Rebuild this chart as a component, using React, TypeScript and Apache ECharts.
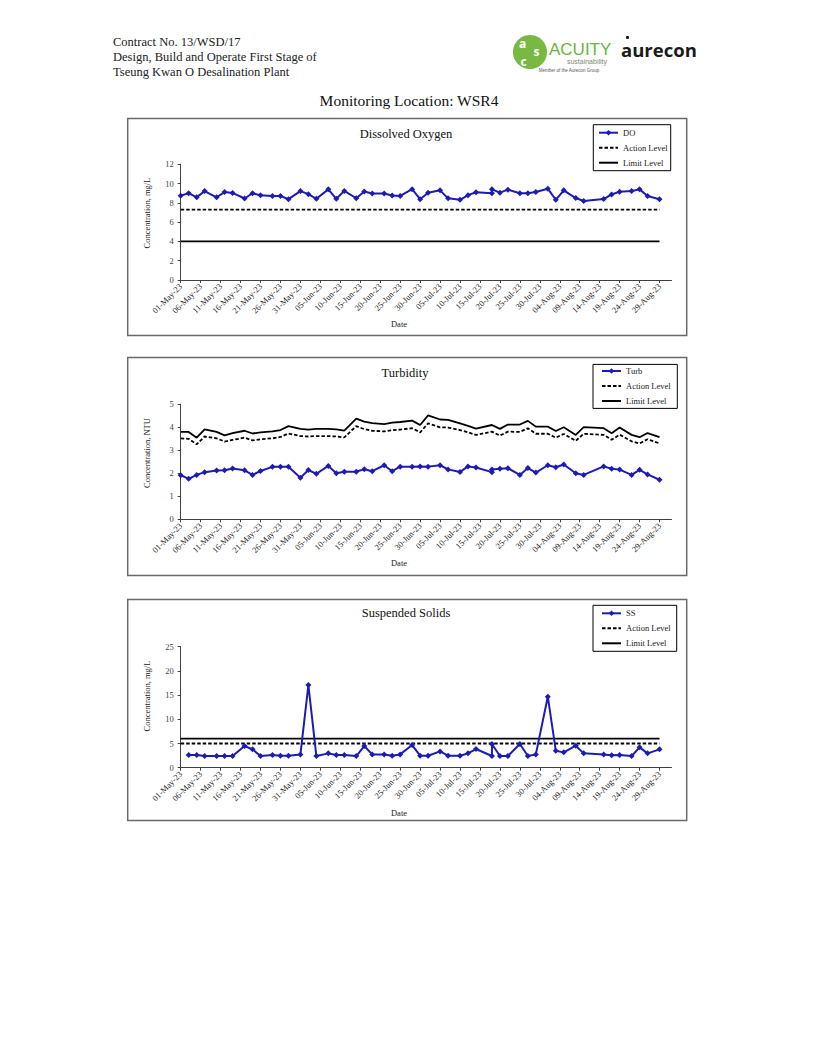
import React, { useEffect, useRef } from "react";
import * as echarts from "echarts";

// ---------------- DATA ----------------
const SAMPLE_DATES = [
  "2023-05-01", "2023-05-03", "2023-05-05", "2023-05-07", "2023-05-10", "2023-05-12", "2023-05-14",
  "2023-05-17", "2023-05-19", "2023-05-21", "2023-05-24", "2023-05-26", "2023-05-28", "2023-05-31",
  "2023-06-02", "2023-06-04", "2023-06-07", "2023-06-09", "2023-06-11", "2023-06-14", "2023-06-16",
  "2023-06-18", "2023-06-21", "2023-06-23", "2023-06-25", "2023-06-28", "2023-06-30", "2023-07-02",
  "2023-07-05", "2023-07-07", "2023-07-10", "2023-07-12", "2023-07-14", "2023-07-18", "2023-07-18",
  "2023-07-20", "2023-07-22", "2023-07-25", "2023-07-27", "2023-07-29", "2023-08-01", "2023-08-03",
  "2023-08-05", "2023-08-08", "2023-08-10", "2023-08-15", "2023-08-17", "2023-08-19", "2023-08-22",
  "2023-08-24", "2023-08-26", "2023-08-29",
];

const DO_VALUES = [
  8.75, 9.0, 8.58, 9.22, 8.58, 9.12, 9.03,
  8.45, 9.0, 8.78, 8.72, 8.72, 8.38, 9.22,
  8.9, 8.42, 9.4, 8.42, 9.24, 8.48, 9.18,
  8.98, 8.98, 8.76, 8.72, 9.42, 8.38, 9.05,
  9.3, 8.47, 8.32, 8.8, 9.1, 9.0, 9.4,
  9.06, 9.37, 8.99, 8.99, 9.12, 9.47, 8.32,
  9.3, 8.5, 8.2, 8.4, 8.88, 9.16, 9.23,
  9.4, 8.72, 8.38,
];

const TURB_VALUES = [
  1.92, 1.76, 1.93, 2.05, 2.12, 2.13, 2.21,
  2.13, 1.93, 2.1, 2.28, 2.28, 2.28, 1.81,
  2.14, 1.98, 2.32, 2.0, 2.07, 2.07, 2.18,
  2.09, 2.35, 2.09, 2.29, 2.29, 2.3, 2.29,
  2.35, 2.17, 2.06, 2.3, 2.25, 2.05, 2.17,
  2.2, 2.22, 1.93, 2.23, 2.03, 2.35, 2.26,
  2.38, 2.0, 1.93, 2.3, 2.2, 2.16, 1.93,
  2.15, 1.95, 1.72,
];

const TURB_ACTION = [
  3.52, 3.5, 3.26, 3.6, 3.52, 3.38, 3.45,
  3.55, 3.43, 3.48, 3.52, 3.58, 3.73, 3.62,
  3.6, 3.62, 3.62, 3.6, 3.56, 4.05, 3.92,
  3.85, 3.82, 3.87, 3.9, 3.96, 3.78, 4.17,
  4.0, 3.99, 3.88, 3.78, 3.67, 3.81, 3.81,
  3.64, 3.81, 3.8, 3.96, 3.72, 3.72, 3.55,
  3.71, 3.41, 3.72, 3.67, 3.46, 3.68, 3.39,
  3.3, 3.48, 3.3,
];

const TURB_LIMIT = [
  3.8, 3.8, 3.55, 3.91, 3.8, 3.65, 3.75,
  3.85, 3.73, 3.78, 3.82, 3.88, 4.05, 3.93,
  3.9, 3.93, 3.93, 3.91, 3.86, 4.38, 4.25,
  4.18, 4.14, 4.2, 4.23, 4.29, 4.1, 4.52,
  4.34, 4.32, 4.17, 4.06, 3.94, 4.1, 4.1,
  3.93, 4.12, 4.12, 4.28, 4.03, 4.03, 3.84,
  4.0, 3.67, 4.01, 3.96, 3.74, 3.99, 3.67,
  3.57, 3.75, 3.57,
];

const SS_DATES = SAMPLE_DATES.slice(1);
const SS_VALUES = [
  2.62, 2.62, 2.41, 2.41, 2.41, 2.41,
  4.48, 3.79, 2.41, 2.62, 2.48, 2.48, 2.75,
  17.08, 2.41, 2.96, 2.62, 2.62, 2.41, 4.48,
  2.75, 2.75, 2.48, 2.75, 4.68, 2.48, 2.48,
  3.37, 2.48, 2.48, 2.96, 3.86, 2.41, 4.89,
  2.41, 2.41, 4.89, 2.41, 2.75, 14.67, 3.51,
  3.17, 4.55, 2.96, 2.75, 2.55, 2.62, 2.41,
  4.2, 2.96, 3.79,
];

const LEVEL_DATES = ["2023-05-01", "2023-08-29"];
const DO_ACTION_LEVEL = 7.3;
const DO_LIMIT_LEVEL = 4;
const SS_ACTION_LEVEL = 5;
const SS_LIMIT_LEVEL = 6;

const X_TICK_LABELS = [
  "01-May-23", "06-May-23", "11-May-23", "16-May-23", "21-May-23", "26-May-23", "31-May-23",
  "05-Jun-23", "10-Jun-23", "15-Jun-23", "20-Jun-23", "25-Jun-23", "30-Jun-23", "05-Jul-23",
  "10-Jul-23", "15-Jul-23", "20-Jul-23", "25-Jul-23", "30-Jul-23", "04-Aug-23", "09-Aug-23",
  "14-Aug-23", "19-Aug-23", "24-Aug-23", "29-Aug-23",
];

// ---------------- HELPERS ----------------
const ORIGIN = Date.UTC(2023, 4, 1);
const DAY = 86400000;
const MONTHS = ["Jan", "Feb", "Mar", "Apr", "May", "Jun", "Jul", "Aug", "Sep", "Oct", "Nov", "Dec"];
const dayOfIso = (iso: string) => {
  const [y, m, d] = iso.split("-").map(Number);
  return Math.round((Date.UTC(y, m - 1, d) - ORIGIN) / DAY);
};
const dayOfLabel = (lab: string) => {
  const [d, mon, yy] = lab.split("-");
  return Math.round((Date.UTC(2000 + Number(yy), MONTHS.indexOf(mon), Number(d)) - ORIGIN) / DAY);
};
const TICK_DAYS = X_TICK_LABELS.map(dayOfLabel);
const LABEL_BY_DAY: Record<number, string> = {};
X_TICK_LABELS.forEach((l, i) => (LABEL_BY_DAY[TICK_DAYS[i]] = l));
const pairs = (dates: string[], vals: number[]) => dates.map((d, i) => [dayOfIso(d), vals[i]]);
const constLine = (v: number) => LEVEL_DATES.map((d) => [dayOfIso(d), v]);

const SERIF = "Liberation Serif";
const BLUE = "#1c1cb4";

export default function App() {
  const ref = useRef<HTMLDivElement>(null);
  useEffect(() => {
    if (!ref.current) return;
    const chart = echarts.init(ref.current, null, { renderer: "svg" });

    const panels = [
      { top: 164.3, height: 115.7, yMax: 12, yInt: 2 },
      { top: 404.3, height: 115, yMax: 5, yInt: 1 },
      { top: 646.7, height: 121, yMax: 25, yInt: 5 },
    ];
    const grid = panels.map((p) => ({ left: 180.7, width: 490.8, top: p.top, height: p.height }));
    const xAxis = panels.map((_, i) => ({
      type: "value",
      gridIndex: i,
      min: 0,
      max: 123,
      axisLine: { show: true, lineStyle: { color: "#404040", width: 1 } },
      axisTick: { show: true, length: 3, customValues: TICK_DAYS, lineStyle: { color: "#404040" } },
      axisLabel: {
        customValues: TICK_DAYS,
        rotate: 45,
        margin: 5,
        fontFamily: SERIF,
        fontSize: 8.5,
        color: "#222",
        formatter: (v: number) => LABEL_BY_DAY[Math.round(v)] ?? "",
      },
      splitLine: { show: false },
    }));
    const yAxis = panels.map((p, i) => ({
      type: "value",
      gridIndex: i,
      min: 0,
      max: p.yMax,
      interval: p.yInt,
      axisLine: { show: true, lineStyle: { color: "#404040", width: 1 } },
      axisTick: { show: true, length: 3, lineStyle: { color: "#404040" } },
      axisLabel: { fontFamily: SERIF, fontSize: 8.5, color: "#444", margin: 7 },
      splitLine: { show: false },
    }));

    const mainSeries = (name: string, idx: number, data: number[][]) => ({
      name,
      type: "line",
      xAxisIndex: idx,
      yAxisIndex: idx,
      data,
      symbol: "diamond",
      symbolSize: 6,
      lineStyle: { color: BLUE, width: 2 },
      itemStyle: { color: BLUE },
      z: 5,
    });
    const actionSeries = (idx: number, data: number[][]) => ({
      name: "Action Level",
      type: "line",
      xAxisIndex: idx,
      yAxisIndex: idx,
      data,
      symbol: "none",
      lineStyle: { color: "#000", width: 1.8, type: [3.5, 2] },
      itemStyle: { color: "#000" },
      z: 3,
    });
    const limitSeries = (idx: number, data: number[][]) => ({
      name: "Limit Level",
      type: "line",
      xAxisIndex: idx,
      yAxisIndex: idx,
      data,
      symbol: "none",
      lineStyle: { color: "#000", width: 1.8 },
      itemStyle: { color: "#000" },
      z: 3,
    });

    const series = [
      mainSeries("DO", 0, pairs(SAMPLE_DATES, DO_VALUES)),
      actionSeries(0, constLine(DO_ACTION_LEVEL)),
      limitSeries(0, constLine(DO_LIMIT_LEVEL)),
      mainSeries("Turb", 1, pairs(SAMPLE_DATES, TURB_VALUES)),
      actionSeries(1, pairs(SAMPLE_DATES, TURB_ACTION)),
      limitSeries(1, pairs(SAMPLE_DATES, TURB_LIMIT)),
      mainSeries("SS", 2, pairs(SS_DATES, SS_VALUES)),
      actionSeries(2, constLine(SS_ACTION_LEVEL)),
      limitSeries(2, constLine(SS_LIMIT_LEVEL)),
    ];

    const legendBase = {
      orient: "vertical",
      padding: 0,
      itemGap: 4,
      itemWidth: 19,
      itemHeight: 7,
      selectedMode: false,
      textStyle: { fontFamily: SERIF, fontSize: 8.5, color: "#222", lineHeight: 11 },
    };
    const lvl = (name: string) => ({ name, itemStyle: { opacity: 0 } });
    const legend = [
      { ...legendBase, left: 598, top: 127.2, data: ["DO", lvl("Action Level"), lvl("Limit Level")] },
      { ...legendBase, left: 601, top: 365.5, data: ["Turb", lvl("Action Level"), lvl("Limit Level")] },
      { ...legendBase, left: 601, top: 607.8, data: ["SS", lvl("Action Level"), lvl("Limit Level")] },
    ];

    const boxes = [
      { x: 127.7, y: 118.5, w: 559, h: 217 },
      { x: 127.7, y: 357.5, w: 559, h: 218 },
      { x: 127.7, y: 599.5, w: 559, h: 221 },
    ];
    const legendBoxes = [
      { x: 593.3, y: 124.7, w: 77.4, h: 46 },
      { x: 593, y: 364.4, w: 84.3, h: 44 },
      { x: 593, y: 605.3, w: 83.7, h: 46 },
    ];
    const titles = [
      { text: "Dissolved Oxygen", x: 406, y: 134 },
      { text: "Turbidity", x: 405, y: 373 },
      { text: "Suspended Solids", x: 406, y: 613 },
    ];
    const yNames = [
      { text: "Concentration, mg/L", y: 213 },
      { text: "Concentration, NTU", y: 453 },
      { text: "Concentration, mg/L", y: 696 },
    ];
    const dateY = [323.5, 563, 813];

    const graphic: any[] = [];
    boxes.forEach((b) =>
      graphic.push({
        type: "rect",
        shape: { x: b.x, y: b.y, width: b.w, height: b.h },
        style: { fill: "none", stroke: "#6a6a6a", lineWidth: 1.5 },
        z: 0,
      })
    );
    legendBoxes.forEach((b) =>
      graphic.push({
        type: "rect",
        shape: { x: b.x, y: b.y, width: b.w, height: b.h },
        style: { fill: "#fff", stroke: "#000", lineWidth: 1 },
        z: 1,
      })
    );
    titles.forEach((t) =>
      graphic.push({
        type: "text",
        x: t.x,
        y: t.y,
        style: { text: t.text, fontFamily: SERIF, fontSize: 12.5, fill: "#111", align: "center", verticalAlign: "middle" },
      })
    );
    yNames.forEach((t) =>
      graphic.push({
        type: "text",
        x: 146.7,
        y: t.y,
        rotation: Math.PI / 2,
        style: { text: t.text, fontFamily: SERIF, fontSize: 8.5, fill: "#222", align: "center", verticalAlign: "middle" },
      })
    );
    dateY.forEach((y) =>
      graphic.push({
        type: "text",
        x: 399,
        y,
        style: { text: "Date", fontFamily: SERIF, fontSize: 8.5, fill: "#222", align: "center", verticalAlign: "middle" },
      })
    );

    // Header
    const headerLines = ["Contract No. 13/WSD/17", "Design, Build and Operate First Stage of", "Tseung Kwan O Desalination Plant"];
    headerLines.forEach((t, i) =>
      graphic.push({
        type: "text",
        x: 113,
        y: 41.5 + i * 15,
        style: { text: t, fontFamily: SERIF, fontSize: 12.5, fill: "#222", align: "left", verticalAlign: "middle" },
      })
    );
    graphic.push({
      type: "text",
      x: 409,
      y: 100,
      style: { text: "Monitoring Location: WSR4", fontFamily: SERIF, fontSize: 15.5, fill: "#111", align: "center", verticalAlign: "middle" },
    });

    // Logos
    graphic.push({ type: "circle", shape: { cx: 530, cy: 52, r: 17 }, style: { fill: "#79b843" } });
    const logoLetter = (t: string, x: number, y: number) => ({
      type: "text", x, y,
      style: { text: t, fontFamily: "Open Sans", fontWeight: "bold", fontSize: 12, fill: "#fff", align: "center", verticalAlign: "middle" },
    });
    graphic.push(logoLetter("a", 522.5, 43.5));
    graphic.push(logoLetter("s", 536.5, 51));
    graphic.push(logoLetter("c", 523.5, 61));
    graphic.push({
      type: "text", x: 549, y: 49,
      style: { text: "ACUITY", fontFamily: "Liberation Sans", fontSize: 17, fill: "#6cb33f", align: "left", verticalAlign: "middle" },
    });
    graphic.push({
      type: "text", x: 607, y: 61,
      style: { text: "sustainability", fontFamily: "Liberation Sans", fontSize: 7, fill: "#7a8a70", align: "right", verticalAlign: "middle" },
    });
    graphic.push({
      type: "text", x: 569, y: 70.5,
      style: { text: "Member of the Aurecon Group", fontFamily: "Liberation Sans", fontSize: 4.5, fill: "#555", align: "center", verticalAlign: "middle" },
    });
    graphic.push({
      type: "text", x: 621, y: 49,
      style: { text: "aurecon", fontFamily: "Open Sans", fontWeight: "bold", fontSize: 18.5, fill: "#1a1a1a", align: "left", verticalAlign: "middle" },
    });
    graphic.push({ type: "circle", shape: { cx: 627.5, cy: 37.5, r: 1.6 }, style: { fill: "#1a1a1a" } });

    chart.setOption({
      animation: false,
      backgroundColor: "#fff",
      grid,
      xAxis,
      yAxis,
      legend,
      series,
      graphic,
    });
    return () => chart.dispose();
  }, []);

  return <div ref={ref} style={{ position: "absolute", left: 0, top: 0, width: 816, height: 1056 }} />;
}
